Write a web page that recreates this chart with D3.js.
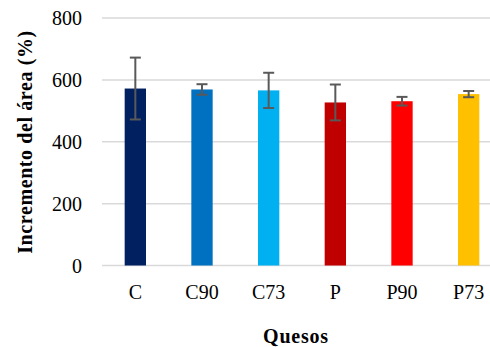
<!DOCTYPE html>
<html>
<head>
<meta charset="utf-8">
<script src="https://cdn.jsdelivr.net/npm/d3@7"></script>
<style>
  body { margin: 0; background: #fff; }
  svg { display: block; font-family: "Liberation Serif", "Times New Roman", serif; }
</style>
</head>
<body>
<script>
const categories = ['C', 'C90', 'C73', 'P', 'P90', 'P73'];
const means = [572, 569, 566, 527, 531, 554];
const errors = [100, 17, 57, 58, 14, 10];
const colors = ['#002060', '#0070C0', '#00B0F0', '#C00000', '#FF0000', '#FFC000'];
const yTicks = [0, 200, 400, 600, 800];

const width = 490, height = 347;
const margin = { left: 102, top: 18, bottom: 82 };

const svg = d3.select('body')
    .append('svg')
    .attr('width', width)
    .attr('height', height);

const x = d3.scaleBand()
    .domain(categories)
    .range([margin.left, 502])
    .paddingInner(0.68)
    .paddingOuter(0.34);

const y = d3.scaleLinear()
    .domain([0, 800])
    .range([height - margin.bottom + 0.5, margin.top]);

// gridlines
svg.append('g')
    .selectAll('line')
    .data(yTicks)
    .enter()
    .append('line')
    .attr('x1', margin.left)
    .attr('x2', width)
    .attr('y1', d => y(d))
    .attr('y2', d => y(d))
    .style('stroke', '#d9d9d9')
    .style('stroke-width', 1.5);

// y tick labels
svg.append('g')
    .selectAll('text')
    .data(yTicks)
    .enter()
    .append('text')
    .attr('x', 82)
    .attr('y', d => y(d) + 7)
    .attr('text-anchor', 'end')
    .style('font-size', '20px')
    .style('fill', '#000')
    .text(d => d);

// bars
svg.append('g')
    .selectAll('rect')
    .data(categories)
    .enter()
    .append('rect')
    .attr('x', d => x(d))
    .attr('width', x.bandwidth())
    .attr('y', (d, i) => y(means[i]))
    .attr('height', (d, i) => y(0) - y(means[i]))
    .style('fill', (d, i) => colors[i]);

// error bars
const err = svg.append('g')
    .style('stroke', '#595959')
    .style('stroke-width', 2);

categories.forEach((c, i) => {
    const cx = x(c) + x.bandwidth() / 2;
    const top = y(means[i] + errors[i]);
    const bot = y(means[i] - errors[i]);
    err.append('line').attr('x1', cx).attr('x2', cx).attr('y1', top).attr('y2', bot);
    err.append('line').attr('x1', cx - 5.5).attr('x2', cx + 5.5).attr('y1', top).attr('y2', top);
    err.append('line').attr('x1', cx - 5.5).attr('x2', cx + 5.5).attr('y1', bot).attr('y2', bot);
});

// x labels
svg.append('g')
    .selectAll('text')
    .data(categories)
    .enter()
    .append('text')
    .attr('x', d => x(d) + x.bandwidth() / 2)
    .attr('y', 299)
    .attr('text-anchor', 'middle')
    .style('font-size', '20px')
    .text(d => d);

// axis titles
svg.append('text')
    .attr('x', 296)
    .attr('y', 343)
    .attr('text-anchor', 'middle')
    .style('font-size', '20px')
    .style('font-weight', 'bold')
    .style('letter-spacing', '0.8px')
    .text('Quesos');

svg.append('text')
    .attr('transform', 'translate(32, 142) rotate(-90)')
    .attr('text-anchor', 'middle')
    .style('font-size', '20px')
    .style('font-weight', 'bold')
    .style('letter-spacing', '0.6px')
    .text('Incremento del área (%)');
</script>
</body>
</html>
